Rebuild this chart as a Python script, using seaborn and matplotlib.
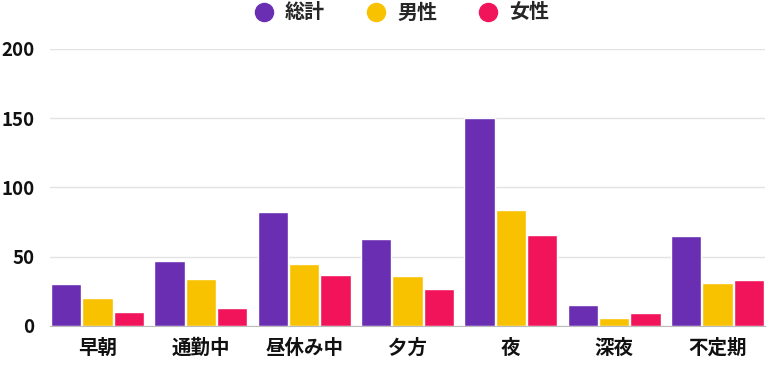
import pandas as pd
import matplotlib.pyplot as plt
from matplotlib.lines import Line2D
import seaborn as sns

categories = ["早朝", "通勤中", "昼休み中", "夕方", "夜", "深夜", "不定期"]
total = [30, 47, 82, 63, 150, 15, 65]
male = [20, 34, 45, 36, 84, 6, 31]
female = [10, 13, 37, 27, 66, 9, 33]
series = ["総計", "男性", "女性"]
colors = ["#6A2EB2", "#F9C200", "#F2145A"]

df = pd.DataFrame({
    "time": categories * 3,
    "value": total + male + female,
    "group": [s for s in series for _ in categories],
})

sns.set_style("white")
plt.rcParams["font.family"] = ["Noto Sans CJK JP", "DejaVu Sans"]

fig = plt.figure(figsize=(7.7, 3.65), dpi=100)
ax = fig.add_axes([50 / 770, 0.107, 715 / 770, 0.759])

sns.barplot(data=df, x="time", y="value", hue="group", palette=colors,
            width=0.91, gap=0.04, ax=ax, legend=False, saturation=1)

ax.set_ylim(0, 200)
ax.set_xlim(-0.46, 6.46)
ax.set_yticks([0, 50, 100, 150, 200])
ax.yaxis.grid(True, color="#e3e3e3", linewidth=1)
ax.set_axisbelow(True)
for s in ["left", "right", "top"]:
    ax.spines[s].set_visible(False)
ax.spines["bottom"].set_color("#bbbbbb")
ax.set_xlabel("")
ax.set_ylabel("")
ax.tick_params(axis="x", length=0, labelsize=14, colors="#111111", pad=9)
ax.tick_params(axis="y", length=0, labelsize=13.5, colors="#111111", pad=11)
for t in ax.get_xticklabels() + ax.get_yticklabels():
    t.set_fontweight("bold")

handles = [Line2D([0], [0], marker="o", color="none", markerfacecolor=c,
                  markeredgecolor=c, markersize=13) for c in colors]
fig.legend(handles, series, loc="center", bbox_to_anchor=(0.5215, 1 - 12 / 365),
           ncol=3, frameon=False, prop={"weight": "bold", "size": 14.4},
           borderpad=0, handletextpad=0.55, handlelength=1.0, columnspacing=2.05)

fig.savefig("out.png", dpi=100)
